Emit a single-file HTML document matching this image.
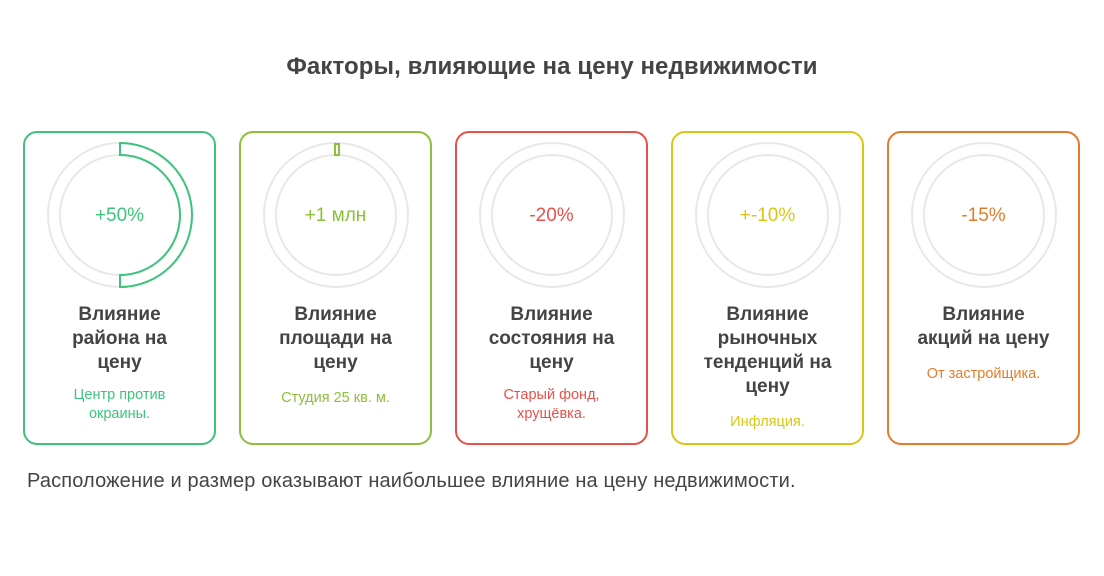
<!DOCTYPE html>
<html><head><meta charset="utf-8"><style>
body{margin:0;width:1104px;height:576px;background:#fff;font-family:"Liberation Sans",sans-serif;position:relative;overflow:hidden}
.t{position:absolute;top:53px;left:0;width:1104px;text-align:center;font-size:24px;font-weight:bold;color:#444;letter-spacing:0.1px}
.card{position:absolute;top:131px;width:189px;height:310px;border:2px solid;border-radius:14px;box-sizing:content-box}
.h{position:absolute;top:170px;left:0;width:100%;text-align:center;font-size:19px;font-weight:bold;color:#444;line-height:24px}
.s{position:absolute;left:0;width:100%;text-align:center;font-size:14.5px;line-height:19px}
.v{position:absolute;top:72px;left:0;width:100%;text-align:center;font-size:19px}
svg{position:absolute;left:0;top:0}
.f{position:absolute;left:27px;top:470px;font-size:20px;color:#444;letter-spacing:0.15px}
</style></head><body>
<div class="t">Факторы, влияющие на цену недвижимости</div>
<svg width="1104" height="576">
<g fill="none" stroke="#e8e8e8" stroke-width="2">
<circle cx="120" cy="215" r="72"/><circle cx="120" cy="215" r="60"/>
<circle cx="336" cy="215" r="72"/><circle cx="336" cy="215" r="60"/>
<circle cx="552" cy="215" r="72"/><circle cx="552" cy="215" r="60"/>
<circle cx="768" cy="215" r="72"/><circle cx="768" cy="215" r="60"/>
<circle cx="984" cy="215" r="72"/><circle cx="984" cy="215" r="60"/>
</g>
<path d="M120 143 A72 72 0 0 1 120 287 L120 275 A60 60 0 0 0 120 155 Z" fill="none" stroke="#3cc47c" stroke-width="2"/>
<rect x="335" y="144" width="4" height="11" fill="none" stroke="#8cbf3a" stroke-width="2"/>
</svg>
<div class="card" style="left:23px;border-color:#3cc47c"><div class="v" style="color:#3cc47c">+50%</div><div class="h">Влияние<br>района на<br>цену</div><div class="s" style="top:253px;color:#3cc47c">Центр против<br>окраины.</div></div>
<div class="card" style="left:239px;border-color:#8cbf3a"><div class="v" style="color:#8cbf3a">+1 млн</div><div class="h">Влияние<br>площади на<br>цену</div><div class="s" style="top:256px;color:#8cbf3a">Студия 25 кв. м.</div></div>
<div class="card" style="left:455px;border-color:#e8504a"><div class="v" style="color:#e8504a">-20%</div><div class="h">Влияние<br>состояния на<br>цену</div><div class="s" style="top:253px;color:#e8504a">Старый фонд,<br>хрущёвка.</div></div>
<div class="card" style="left:671px;border-color:#d8c814"><div class="v" style="color:#d8c814">+-10%</div><div class="h">Влияние<br>рыночных<br>тенденций на<br>цену</div><div class="s" style="top:280px;color:#d8c814">Инфляция.</div></div>
<div class="card" style="left:887px;border-color:#e37c2a"><div class="v" style="color:#e37c2a">-15%</div><div class="h">Влияние<br>акций на цену</div><div class="s" style="top:232px;color:#e37c2a">От застройщика.</div></div>
<div class="f">Расположение и размер оказывают наибольшее влияние на цену недвижимости.</div>
</body></html>
